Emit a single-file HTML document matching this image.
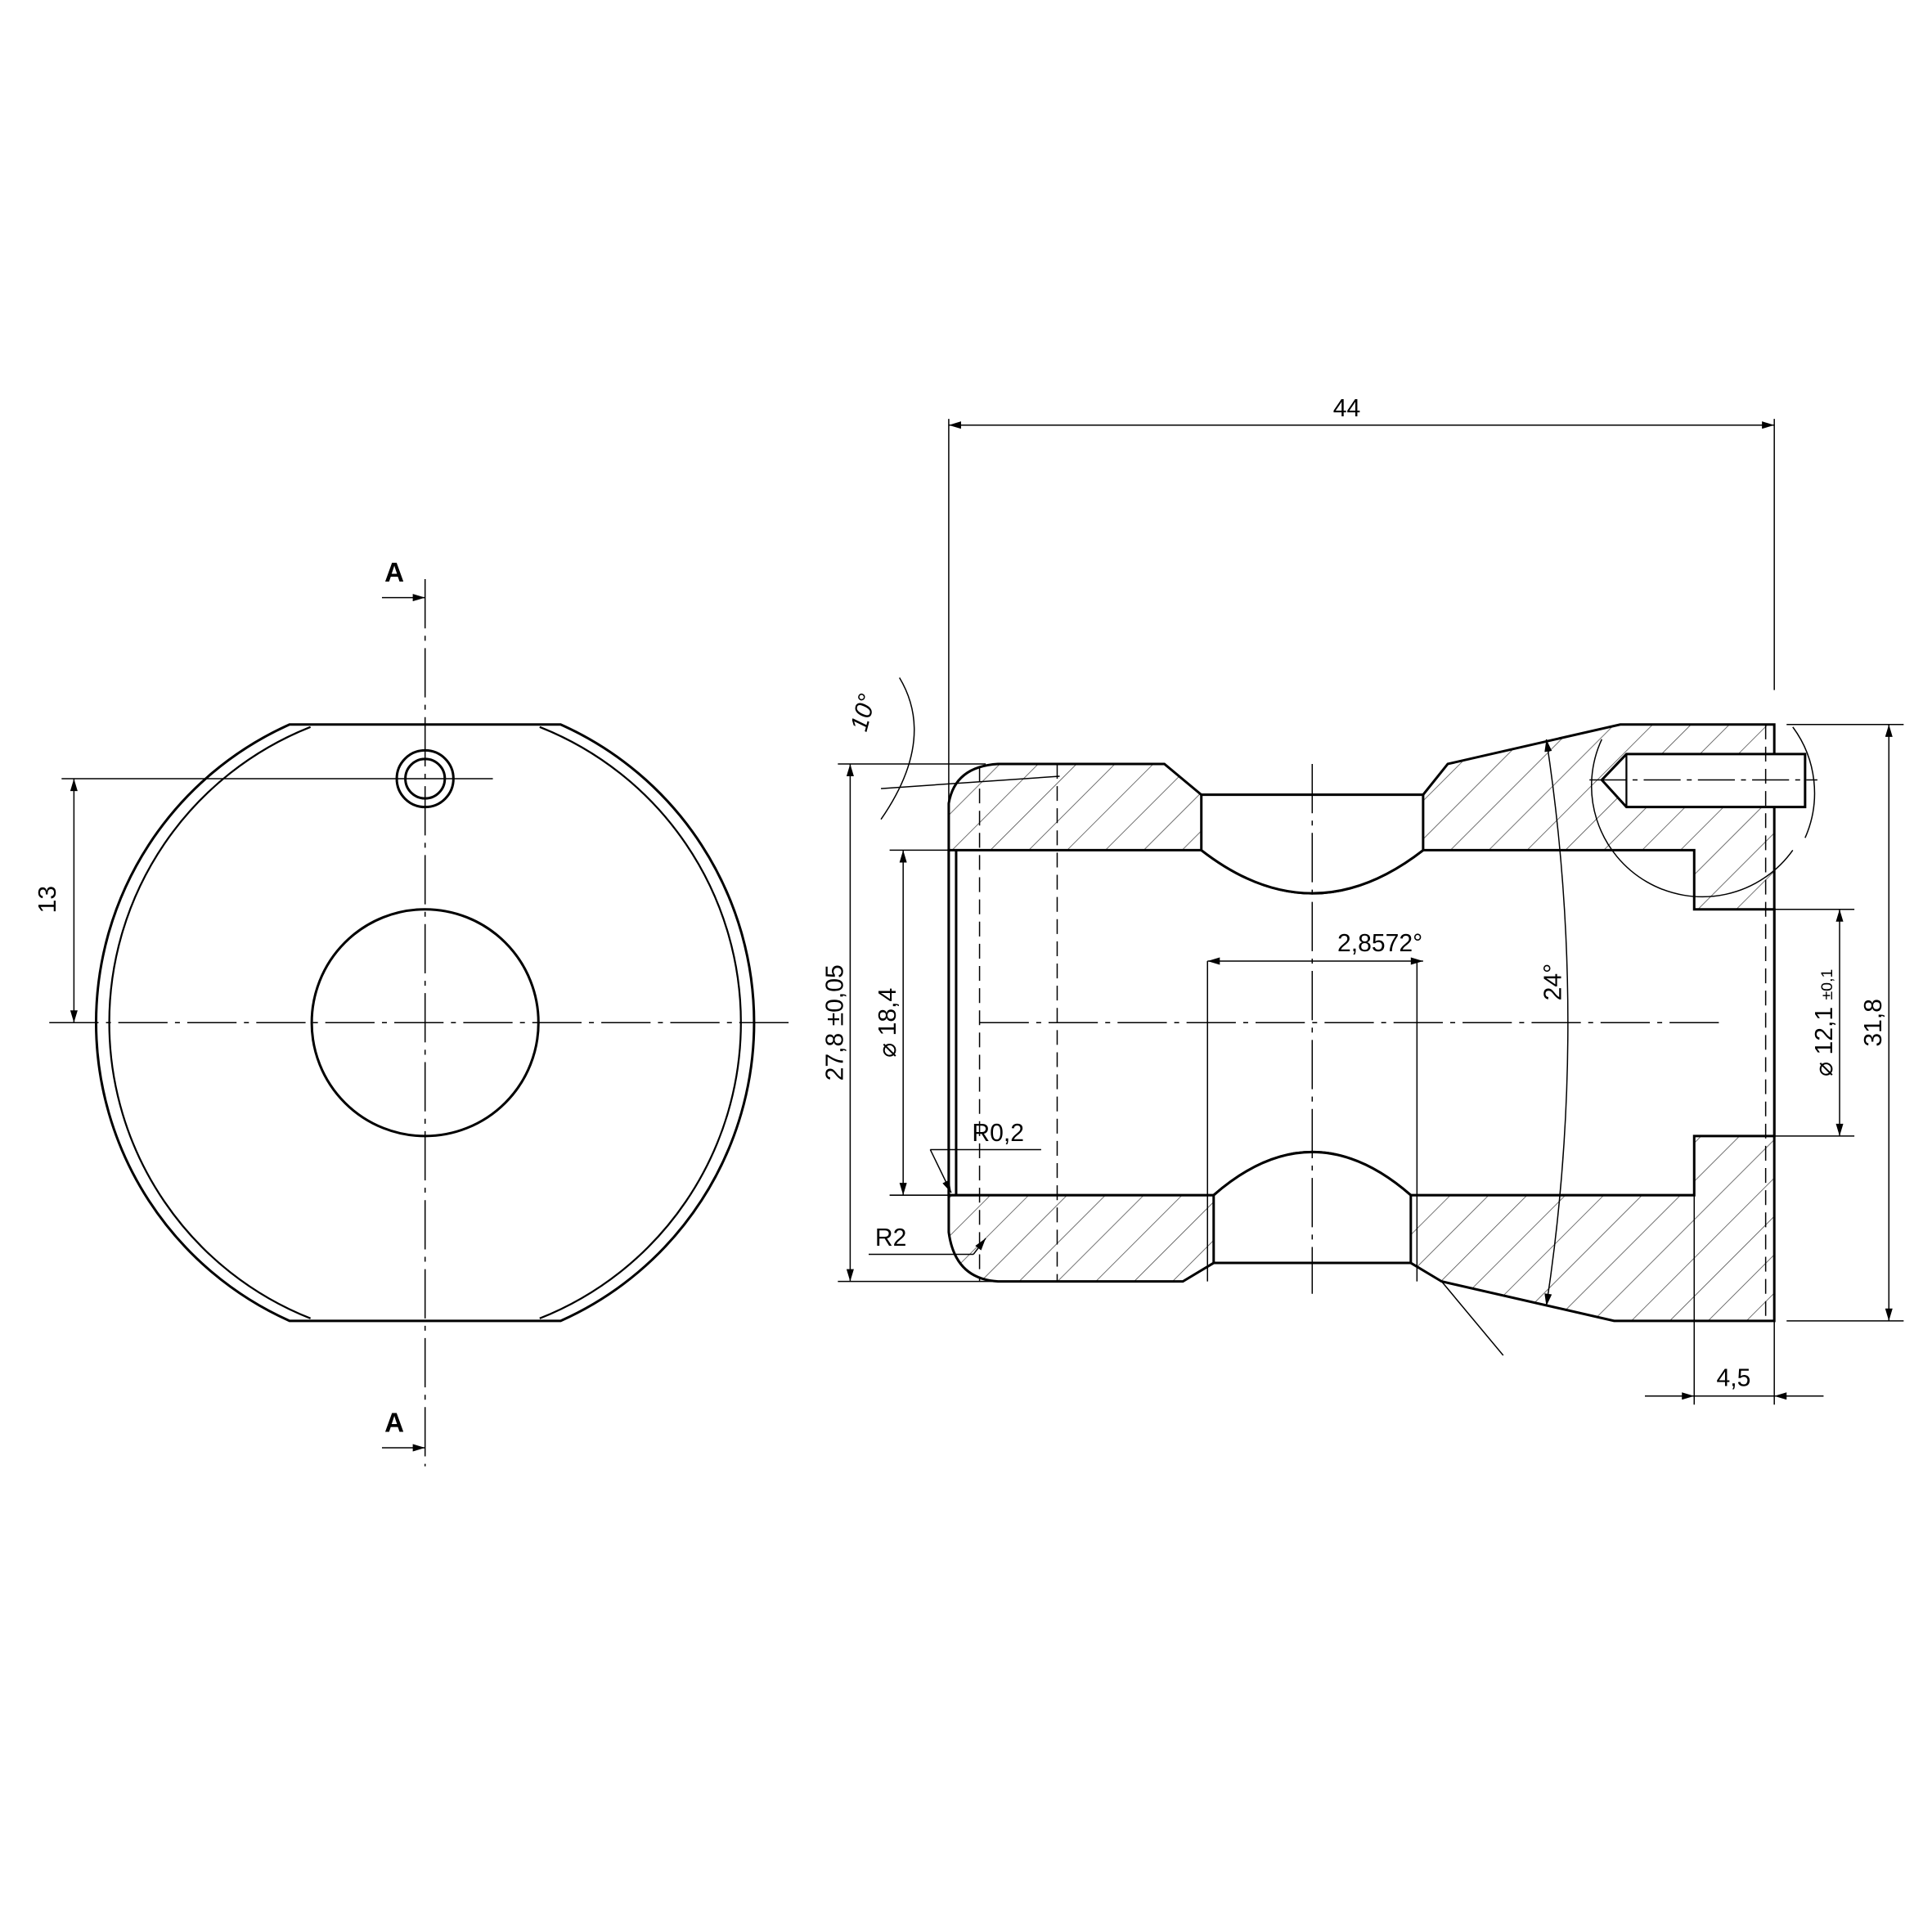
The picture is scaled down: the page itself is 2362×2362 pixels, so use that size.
<!DOCTYPE html>
<html><head><meta charset="utf-8"><style>html,body{margin:0;padding:0;background:#fff}svg{display:block}</style></head>
<body>
<svg width="2362" height="2362" viewBox="0 0 1568 1568" xmlns="http://www.w3.org/2000/svg" font-family="Liberation Sans, sans-serif">
<defs>
<pattern id="h" patternUnits="userSpaceOnUse" width="22" height="22" patternTransform="rotate(45)">
<line x1="0" y1="0" x2="0" y2="22" stroke="#444" stroke-width="1"/>
</pattern>
<marker id="a" viewBox="0 0 10 6" refX="10" refY="3" markerWidth="12" markerHeight="6" orient="auto-start-reverse" markerUnits="userSpaceOnUse"><path d="M0,0 L10,3 L0,6 z" fill="#000"/></marker>
</defs>
<g fill="none" stroke="#000" stroke-width="2">
<path d="M235,588 L455,588 A265,265 0 0 1 455,1072 L235,1072 A265,265 0 0 1 235,588 Z"/>
<path d="M252,590 A258,258 0 0 0 252,1070" stroke-width="1.5"/>
<path d="M438,590 A258,258 0 0 1 438,1070" stroke-width="1.5"/>
<circle cx="345" cy="632" r="23"/>
<circle cx="345" cy="632" r="16"/>
<circle cx="345" cy="830" r="92"/>
</g>
<g stroke="#000" stroke-width="1" fill="none">
<line x1="345" y1="470" x2="345" y2="1190" stroke-dasharray="40,6,4,6"/>
<line x1="40" y1="830" x2="640" y2="830" stroke-dasharray="40,6,4,6"/>
<line x1="50" y1="632" x2="400" y2="632"/>
<line x1="60" y1="632" x2="60" y2="830" marker-start="url(#a)" marker-end="url(#a)"/>
<line x1="310" y1="485" x2="345" y2="485" marker-end="url(#a)"/>
<line x1="310" y1="1175" x2="345" y2="1175" marker-end="url(#a)"/>
</g>
<text x="45" y="730" font-size="20" transform="rotate(-90 45 730)" text-anchor="middle">13</text>
<text x="320" y="472" font-size="22" font-weight="bold" text-anchor="middle">A</text>
<text x="320" y="1162" font-size="22" font-weight="bold" text-anchor="middle">A</text>

<path d="M770,652 Q775,622 810,620 L945,620 L975,645 L1155,645 L1175,620 L1315,588 L1440,588 L1440,1072 L1310,1072 L1170,1040 L1145,1025 L985,1025 L960,1040 L810,1040 Q775,1038 770,1000 Z" fill="url(#h)" stroke="#000" stroke-width="2"/>
<path d="M770,690 L975,690 Q1065,760 1155,690 L1375,690 L1375,738 L1440,738 L1440,922 L1375,922 L1375,970 L1145,970 Q1065,900 985,970 L770,970 Z" fill="#fff" stroke="#000" stroke-width="2"/>
<path d="M975,645 L1155,645 L1155,690 Q1065,760 975,690 Z" fill="#fff" stroke="#000" stroke-width="2"/>
<path d="M985,1025 L1145,1025 L1145,970 Q1065,900 985,970 Z" fill="#fff" stroke="#000" stroke-width="2"/>
<line x1="776" y1="690" x2="776" y2="970" stroke="#000" stroke-width="2"/>
<path d="M1300,633 L1320,612 L1465,612 L1465,655 L1320,655 Z" fill="#fff" stroke="#000" stroke-width="2"/>
<line x1="1320" y1="612" x2="1320" y2="655" stroke="#000" stroke-width="1.5"/>
<g stroke="#000" stroke-width="1" fill="none">
<path d="M1300,600 A90,90 0 0 0 1455,690"/>
<path d="M1455,590 A90,90 0 0 1 1465,680"/>
<line x1="795" y1="622" x2="795" y2="1040" stroke-dasharray="12,6"/>
<line x1="858" y1="620" x2="858" y2="1040" stroke-dasharray="12,6"/>
<line x1="1433" y1="588" x2="1433" y2="1072" stroke-dasharray="12,6"/>
<line x1="1065" y1="620" x2="1065" y2="1050" stroke-dasharray="40,6,4,6"/>
<line x1="795" y1="830" x2="1395" y2="830" stroke-dasharray="40,6,4,6"/>
<line x1="1290" y1="633" x2="1475" y2="633" stroke-dasharray="30,5,4,5"/>
<line x1="770" y1="340" x2="770" y2="690"/>
<line x1="1440" y1="340" x2="1440" y2="560"/>
<line x1="770" y1="345" x2="1440" y2="345" marker-start="url(#a)" marker-end="url(#a)"/>
<line x1="1450" y1="588" x2="1545" y2="588"/>
<line x1="1450" y1="1072" x2="1545" y2="1072"/>
<line x1="1533" y1="588" x2="1533" y2="1072" marker-start="url(#a)" marker-end="url(#a)"/>
<line x1="680" y1="620" x2="800" y2="620"/>
<line x1="680" y1="1040" x2="805" y2="1040"/>
<line x1="690" y1="620" x2="690" y2="1040" marker-start="url(#a)" marker-end="url(#a)"/>
<line x1="722" y1="690" x2="770" y2="690"/>
<line x1="722" y1="970" x2="770" y2="970"/>
<line x1="733" y1="690" x2="733" y2="970" marker-start="url(#a)" marker-end="url(#a)"/>
<line x1="1440" y1="738" x2="1505" y2="738"/>
<line x1="1440" y1="922" x2="1505" y2="922"/>
<line x1="1493" y1="738" x2="1493" y2="922" marker-start="url(#a)" marker-end="url(#a)"/>
<line x1="1375" y1="925" x2="1375" y2="1140"/>
<line x1="1440" y1="1072" x2="1440" y2="1140"/>
<line x1="1335" y1="1133" x2="1375" y2="1133" marker-end="url(#a)"/>
<line x1="1480" y1="1133" x2="1440" y2="1133" marker-end="url(#a)"/>
<line x1="1375" y1="1133" x2="1440" y2="1133"/>
<line x1="980" y1="780" x2="980" y2="1040"/>
<line x1="1150" y1="780" x2="1150" y2="1040"/>
<line x1="980" y1="780" x2="1155" y2="780" marker-start="url(#a)" marker-end="url(#a)"/>
<path d="M1255,600 Q1290,830 1255,1060" marker-start="url(#a)" marker-end="url(#a)"/>
<line x1="1170" y1="1040" x2="1220" y2="1100"/>
<path d="M730,550 Q760,600 715,665"/>
<line x1="715" y1="640" x2="860" y2="630"/>
<line x1="755" y1="933" x2="845" y2="933"/>
<line x1="755" y1="933" x2="772" y2="968" marker-end="url(#a)"/>
<line x1="705" y1="1018" x2="790" y2="1018"/>
<line x1="790" y1="1018" x2="800" y2="1005" marker-end="url(#a)"/>
</g>
<g font-size="20" fill="#000">
<text x="1093" y="338" text-anchor="middle">44</text>
<text x="1527" y="830" transform="rotate(-90 1527 830)" text-anchor="middle">31,8</text>
<text x="684" y="830" transform="rotate(-90 684 830)" text-anchor="middle">27,8 ±0,05</text>
<text x="727" y="830" transform="rotate(-90 727 830)" text-anchor="middle">⌀ 18,4</text>
<text x="1487" y="830" transform="rotate(-90 1487 830)" text-anchor="middle">⌀ 12,1 <tspan font-size="13">±0,1</tspan></text>
<text x="1407" y="1125" text-anchor="middle">4,5</text>
<text x="1120" y="772" text-anchor="middle">2,8572°</text>
<text x="1267" y="797" transform="rotate(-90 1267 797)" text-anchor="middle">24°</text>
<text x="707" y="580" transform="rotate(-75 707 580)" text-anchor="middle" font-style="italic">10°</text>
<text x="810" y="926" text-anchor="middle">R0,2</text>
<text x="723" y="1011" text-anchor="middle">R2</text>
</g>
</svg>
</body></html>
